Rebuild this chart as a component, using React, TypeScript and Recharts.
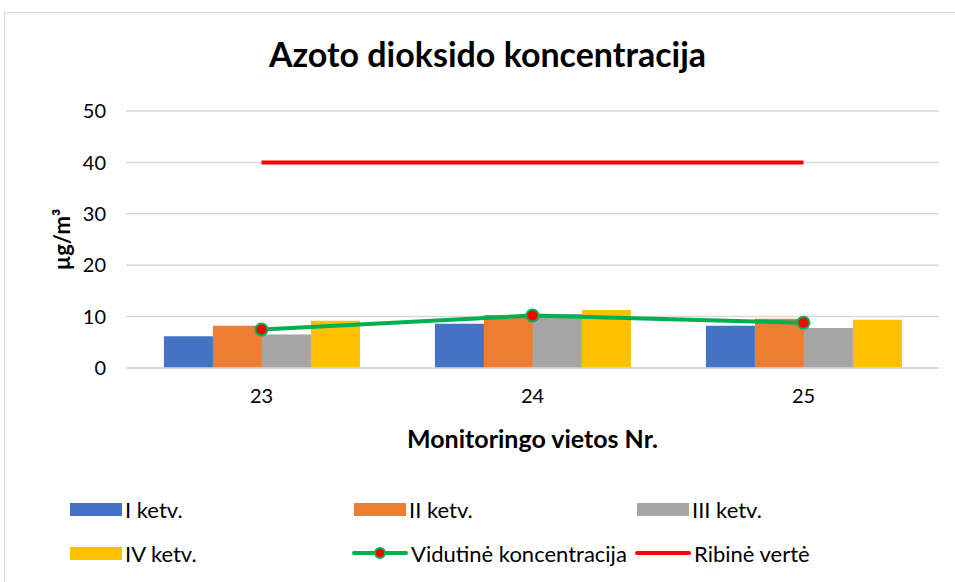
import React from "react";
import { ComposedChart, Bar, Line, XAxis, YAxis, CartesianGrid, Legend, Label } from "recharts";

const categories = ["23", "24", "25"];
const q1 = [6.2, 8.6, 8.2];
const q2 = [8.2, 10.3, 9.6];
const q3 = [6.5, 10.5, 7.8];
const q4 = [9.2, 11.3, 9.4];
const average = [7.5, 10.2, 8.8];
const limit = [40, 40, 40];
const yTicks = [0, 10, 20, 30, 40, 50];

const seriesNames = ["I ketv.", "II ketv.", "III ketv.", "IV ketv.", "Vidutinė koncentracija", "Ribinė vertė"];
const colors = ["#4472C4", "#ED7D31", "#A5A5A5", "#FFC000", "#00B050", "#FF0000"];

const data = categories.map((c, i) => ({
  name: c,
  q1: q1[i],
  q2: q2[i],
  q3: q3[i],
  q4: q4[i],
  avg: average[i],
  lim: limit[i],
}));

const FONT = "Lato, 'Noto Sans', sans-serif";

const LegendContent = () => {
  const item = (idx: number, left: number, top: number) => {
    const isLine = idx >= 4;
    return (
      <div key={idx} style={{ position: "absolute", left, top, display: "flex", alignItems: "center", height: 24 }}>
        {isLine ? (
          <svg width={56} height={14} style={{ display: "block" }}>
            <line x1={2} y1={7} x2={54} y2={7} stroke={colors[idx]} strokeWidth={4} strokeLinecap="round" />
            {idx === 4 && <circle cx={28} cy={7} r={5} fill="#FF0000" stroke="#00B050" strokeWidth={2} />}
          </svg>
        ) : (
          <div style={{ width: 52, height: 13, background: colors[idx] }} />
        )}
        <span style={{ marginLeft: 3, fontSize: 22, color: "#000", whiteSpace: "nowrap" }}>{seriesNames[idx]}</span>
      </div>
    );
  };
  return (
    <div style={{ position: "relative", width: 955, height: 90, fontFamily: FONT }}>
      {item(0, 70, 12)}
      {item(1, 354, 12)}
      {item(2, 637, 12)}
      {item(3, 70, 56)}
      {item(4, 352, 56)}
      {item(5, 635, 56)}
    </div>
  );
};

export default function App() {
  return (
    <div style={{ position: "absolute", left: 0, top: 0, width: 955, height: 582, background: "#fff", overflow: "hidden", fontFamily: FONT }}>
      <div style={{ position: "absolute", left: 4, top: 12, width: 1000, height: 1000, border: "1px solid #d9d9d9" }} />
      <div style={{ position: "absolute", left: 0, top: 33, width: 975, textAlign: "center", fontSize: 34, fontWeight: 700, color: "#000", lineHeight: "41px" }}>
        Azoto dioksido koncentracija
      </div>
      <div style={{ position: "absolute", left: 0, top: 0 }}>
        <ComposedChart
          width={955}
          height={582}
          data={data}
          margin={{ top: 111, right: 16, bottom: 132, left: 66 }}
          barCategoryGap="14%"
          barGap={0}
          style={{ fontFamily: FONT }}
        >
          <CartesianGrid vertical={false} stroke="#d9d9d9" strokeWidth={1.5} />
          <XAxis
            dataKey="name"
            height={82}
            tickLine={false}
            axisLine={{ stroke: "#d9d9d9", strokeWidth: 1.5 }}
            tick={{ fontSize: 20, fill: "#000" }}
            tickMargin={15}
          >
            <Label value="Monitoringo vietos Nr." position="insideBottom" offset={2} style={{ fontSize: 25, fontWeight: 700, fill: "#000" }} />
          </XAxis>
          <YAxis
            width={60}
            domain={[0, 50]}
            ticks={yTicks}
            tickLine={false}
            axisLine={false}
            tick={{ fontSize: 20, fill: "#000" }}
            tickMargin={14}
          >
            <Label value="µg/m³" angle={-90} position="insideLeft" offset={-4} style={{ fontSize: 22, fontWeight: 700, fill: "#000", textAnchor: "middle" }} />
          </YAxis>
          <Bar dataKey="q1" name={seriesNames[0]} fill={colors[0]} isAnimationActive={false} />
          <Bar dataKey="q2" name={seriesNames[1]} fill={colors[1]} isAnimationActive={false} />
          <Bar dataKey="q3" name={seriesNames[2]} fill={colors[2]} isAnimationActive={false} />
          <Bar dataKey="q4" name={seriesNames[3]} fill={colors[3]} isAnimationActive={false} />
          <Line
            dataKey="avg"
            name={seriesNames[4]}
            stroke={colors[4]}
            strokeWidth={4}
            dot={{ r: 6, fill: "#FF0000", stroke: "#00B050", strokeWidth: 2 }}
            isAnimationActive={false}
          />
          <Line dataKey="lim" name={seriesNames[5]} stroke={colors[5]} strokeWidth={4} dot={false} isAnimationActive={false} />
          <Legend
            layout="horizontal"
            verticalAlign="middle"
            align="center"
            content={<LegendContent />}
            wrapperStyle={{ position: "absolute", left: 0, top: 485, width: 955, height: 90 }}
          />
        </ComposedChart>
      </div>
    </div>
  );
}
